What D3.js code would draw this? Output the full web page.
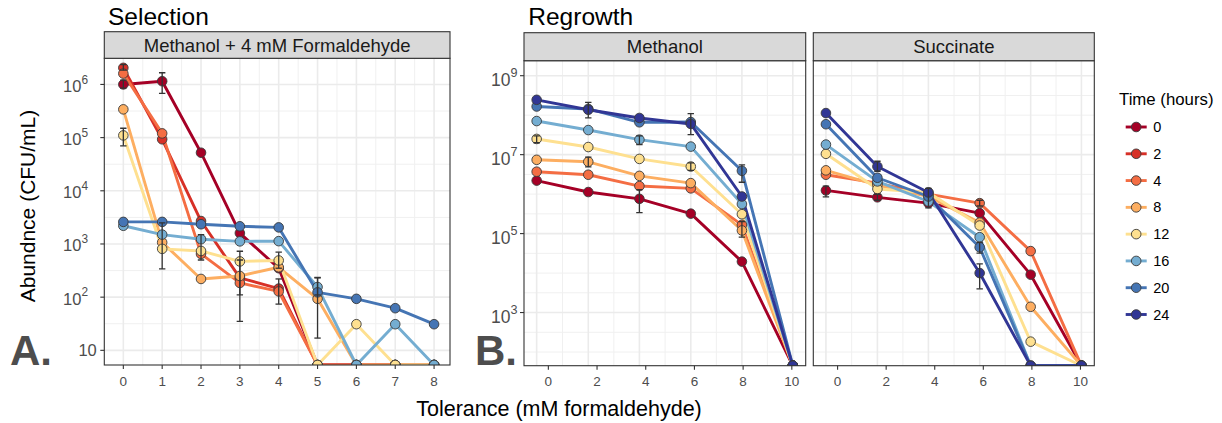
<!DOCTYPE html>
<html><head><meta charset="utf-8">
<script src="https://cdn.jsdelivr.net/npm/d3@7"></script>
<style>body{margin:0;background:#fff} text{font-family:"Liberation Sans",Arial,Helvetica,sans-serif}</style>
</head><body><svg id="c" width="1222" height="423"></svg>
<script>
// ---------------- DATA ----------------
const times = [0, 2, 4, 8, 12, 16, 20, 24];
const palette = ["#a50026", "#d73027", "#f46d43", "#fdae61", "#fee090", "#74add1", "#4575b4", "#313695"];

// Panel A: Selection (Methanol + 4 mM Formaldehyde); 0 = none detected (drawn at axis floor)
const selX = [0, 1, 2, 3, 4, 5, 6, 7, 8];
const selTicks = [0, 1, 2, 3, 4, 5, 6, 7, 8];
const selYTicks = [10, 1e2, 1e3, 1e4, 1e5, 1e6];
const sel0  = [1.0e6, 1.15e6, 5.2e4, 1.6e3, 350, 0, 0, 0, 0];
const sel2  = [2.05e6, 9.3e4, 2.7e3, 230, 145, 0, 0, 0, 0];
const sel4  = [1.6e6, 1.2e5, 650, 185, 128, 0, 0, 0, 0];
const sel8  = [3.4e5, 1.07e3, 220, 250, 365, 93, 0, 0, 0];
const sel12 = [1.1e5, 810, 740, 470, 490, 0, 31, 0, 0];
const sel16 = [2.2e3, 1.5e3, 1.23e3, 1.12e3, 1.13e3, 155, 0, 31, 0];
const sel20 = [2.6e3, 2.6e3, 2.35e3, 2.15e3, 2.05e3, 123, 93, 62, 31];
// error bars: [time, index, low, high]
const selErr = [
  [0, 0, 8.5e5, 1.2e6], [0, 1, 6.8e5, 1.66e6], [2, 0, 1.85e6, 2.35e6],
  [12, 0, 7e4, 1.5e5], [12, 1, 340, 2.5e3], [4, 2, 500, 1.5e3],
  [8, 3, 110, 730], [4, 3, 35, 500], [12, 4, 350, 700], [4, 4, 74, 220],
  [8, 5, 17, 230], [16, 5, 110, 235]
];

// Panel B: Regrowth (Methanol / Succinate)
const regX = [-0.48, 1.64, 3.74, 5.85, 7.95, 10.04];
const regTicks = [0, 2, 4, 6, 8, 10];
const regYTicks = [1e3, 1e5, 1e7, 1e9];
const meth0  = [2.2e6, 1.13e6, 7.6e5, 3.2e5, 1.95e4, 0];
const meth4  = [3.7e6, 3.1e6, 1.6e6, 1.4e6, 1.66e5, 0];
const meth8  = [7.4e6, 6.6e6, 2.9e6, 1.9e6, 1.2e5, 0];
const meth12 = [2.5e7, 1.56e7, 7.8e6, 5.0e6, 3.1e5, 0];
const meth16 = [7.1e7, 4.2e7, 2.4e7, 1.6e7, 5.6e5, 0];
const meth20 = [1.66e8, 1.44e8, 6.6e7, 6.7e7, 3.9e6, 0];
const meth24 = [2.45e8, 1.37e8, 8.5e7, 6.0e7, 8.7e5, 0];
const methErr = [
  [20, 1, 8.5e7, 2.1e8], [0, 2, 3.4e5, 1.3e6], [20, 3, 3.2e7, 1.1e8],
  [20, 4, 2.0e6, 5.5e6], [16, 2, 1.8e7, 3.0e7], [8, 1, 4.9e6, 8.7e6],
  [12, 3, 4.0e6, 6.2e6], [12, 0, 2.0e7, 3.0e7], [8, 4, 8.1e4, 2.0e5]
];
const succ0  = [1.24e6, 8.3e5, 5.9e5, 3.3e5, 9.1e3, 0];
const succ4  = [3.1e6, 1.9e6, 1.0e6, 5.9e5, 3.6e4, 0];
const succ8  = [4.0e6, 1.7e6, 8.7e5, 1.9e5, 1.4e3, 0];
const succ12 = [1.05e7, 1.35e6, 1.1e6, 1.6e5, 183, 0];
const succ16 = [1.8e7, 2.1e6, 6.5e5, 8.1e4, 0, 0];
const succ20 = [5.9e7, 2.6e6, 8.7e5, 4.5e4, 0, 0];
const succ24 = [1.13e8, 5.0e6, 1.1e6, 1.0e4, 0, 0];
const succErr = [
  [0, 0, 8.5e5, 1.6e6], [0, 1, 7.0e5, 9.8e5], [24, 1, 3.8e6, 6.8e6],
  [24, 2, 4.5e5, 1.4e6], [4, 3, 5.0e5, 7.0e5], [20, 3, 3.2e4, 6.0e4],
  [24, 3, 4.0e3, 1.7e4]
];

const selSeries  = [[0, sel0], [2, sel2], [4, sel4], [8, sel8], [12, sel12], [16, sel16], [20, sel20]];
const methSeries = [[0, meth0], [4, meth4], [8, meth8], [12, meth12], [16, meth16], [20, meth20], [24, meth24]];
const succSeries = [[0, succ0], [4, succ4], [8, succ8], [12, succ12], [16, succ16], [20, succ20], [24, succ24]];

// ---------------- DRAW ----------------
const svg = d3.select("#c");
const color = d3.scaleOrdinal().domain(times).range(palette);
let clipId = 0;

function panel(o) {
  const g = svg.append("g");
  const x = d3.scaleLinear().domain(o.xDomain).range([o.left, o.right]);
  const y = d3.scaleLog().domain(o.yDomain).range([o.bottom, o.top]);
  const floor = o.yDomain[0];
  // grid
  const lo = Math.ceil(Math.log10(o.yDomain[0]) * 2) / 2, hi = Math.log10(o.yDomain[1]);
  const yMinor = [], yMajorAll = [];
  for (let e = lo; e <= hi + 1e-9; e += 0.5) {
    const v = Math.pow(10, e);
    if (o.yMajorGrid.some(t => Math.abs(Math.log10(t) - e) < 1e-6)) yMajorAll.push(v); else yMinor.push(v);
  }
  const xMajor = o.xGrid;
  const xMinor = d3.pairs(o.xGrid).map(([a, b]) => (a + b) / 2);
  g.selectAll(".ymin").data(yMinor).join("line")
    .attr("x1", o.left).attr("x2", o.right).attr("y1", d => y(d)).attr("y2", d => y(d))
    .attr("stroke", "#f0f0f0").attr("stroke-width", 1);
  g.selectAll(".xmin").data(xMinor).join("line")
    .attr("y1", o.top).attr("y2", o.bottom).attr("x1", d => x(d)).attr("x2", d => x(d))
    .attr("stroke", "#f0f0f0").attr("stroke-width", 1);
  g.selectAll(".ymaj").data(yMajorAll).join("line")
    .attr("x1", o.left).attr("x2", o.right).attr("y1", d => y(d)).attr("y2", d => y(d))
    .attr("stroke", "#ebebeb").attr("stroke-width", 1.6);
  g.selectAll(".xmaj").data(xMajor).join("line")
    .attr("y1", o.top).attr("y2", o.bottom).attr("x1", d => x(d)).attr("x2", d => x(d))
    .attr("stroke", "#ebebeb").attr("stroke-width", 1.6);

  // clip
  const cid = "clip" + (clipId++);
  svg.append("clipPath").attr("id", cid).append("rect")
    .attr("x", o.left).attr("y", o.top).attr("width", o.right - o.left).attr("height", o.bottom - o.top);
  const data = g.append("g").attr("clip-path", `url(#${cid})`);
  const val = v => (v <= 0 ? floor : v);
  const line = d3.line().x(d => x(d[0])).y(d => y(val(d[1])));
  o.series.forEach(([t, arr]) => {
    const pts = arr.map((v, i) => [o.xs[i], v]);
    data.append("path").attr("d", line(pts)).attr("fill", "none")
      .attr("stroke", color(t)).attr("stroke-width", 2.9).attr("stroke-linejoin", "round");
  });
  o.series.forEach(([t, arr]) => {
    data.selectAll(null).data(arr.map((v, i) => [o.xs[i], v])).join("circle")
      .attr("cx", d => x(d[0])).attr("cy", d => y(val(d[1]))).attr("r", 4.8)
      .attr("fill", color(t)).attr("stroke", "#3a3a3a").attr("stroke-width", 0.9);
  });
  o.errs.forEach(([t, i, l, h]) => {
    const cx = x(o.xs[i]);
    const eg = data.append("g").attr("stroke", "#333").attr("stroke-width", 1.3);
    eg.append("line").attr("x1", cx).attr("x2", cx).attr("y1", y(l)).attr("y2", y(h));
    eg.append("line").attr("x1", cx - 3.2).attr("x2", cx + 3.2).attr("y1", y(l)).attr("y2", y(l));
    eg.append("line").attr("x1", cx - 3.2).attr("x2", cx + 3.2).attr("y1", y(h)).attr("y2", y(h));
  });

  // border
  g.append("rect").attr("x", o.left).attr("y", o.top).attr("width", o.right - o.left).attr("height", o.bottom - o.top)
    .attr("fill", "none").attr("stroke", "#333").attr("stroke-width", 1.1);
  // strip
  g.append("rect").attr("x", o.left).attr("y", o.stripTop).attr("width", o.right - o.left).attr("height", o.top - o.stripTop)
    .attr("fill", "#d9d9d9").attr("stroke", "#333").attr("stroke-width", 1.1);
  g.append("text").attr("x", (o.left + o.right) / 2).attr("y", (o.top + o.stripTop) / 2 + 6.5)
    .attr("text-anchor", "middle").attr("font-size", 18.5).attr("fill", "#1a1a1a").text(o.strip);

  // x axis
  g.selectAll(".xt").data(o.xTicks).join("line")
    .attr("x1", d => x(d)).attr("x2", d => x(d)).attr("y1", o.bottom).attr("y2", o.bottom + 4)
    .attr("stroke", "#333").attr("stroke-width", 1.1);
  g.selectAll(".xl").data(o.xTicks).join("text")
    .attr("x", d => x(d)).attr("y", o.bottom + 20.5).attr("text-anchor", "middle")
    .attr("font-size", 13.5).attr("fill", "#4d4d4d").text(d => d);

  // y axis
  if (o.yTicks) {
    g.selectAll(".yt").data(o.yTicks).join("line")
      .attr("x1", o.left - 4).attr("x2", o.left).attr("y1", d => y(d)).attr("y2", d => y(d))
      .attr("stroke", "#333").attr("stroke-width", 1.1);
    o.yTicks.forEach(v => {
      const e = Math.round(Math.log10(v));
      const tx = g.append("text").attr("text-anchor", "end").attr("fill", "#4d4d4d")
        .attr("font-size", o.yFont);
      if (e === 1) {
        tx.attr("x", o.left - 7.5).attr("y", y(v) + o.yFont * 0.36).text("10");
      } else {
        tx.attr("x", o.yLabelEnd).attr("y", y(v) + o.yBase);
        tx.append("tspan").text("10");
        tx.append("tspan").attr("font-size", o.yFont * 0.72).attr("dy", -o.yFont * 0.5).text(e);
      }
    });
  }
  return { x, y };
}

// Panel A
panel({
  left: 104.3, right: 450, top: 58.3, bottom: 365, stripTop: 31.7,
  strip: "Methanol + 4 mM Formaldehyde",
  xDomain: [-0.49, 8.41], yDomain: [5.3, 3.1e6],
  xGrid: selX, xTicks: selTicks, yMajorGrid: selYTicks, yTicks: selYTicks,
  yFont: 16.5, yBase: 7.5, yLabelEnd: 88,
  xs: selX, series: selSeries, errs: selErr
});
// Panel B methanol
panel({
  left: 524, right: 805.7, top: 60.7, bottom: 365.7, stripTop: 32.7,
  strip: "Methanol",
  xDomain: [-1.0, 10.57], yDomain: [45, 2.4e9],
  xGrid: regX, xTicks: regTicks, yMajorGrid: [1e3, 1e5, 1e7, 1e9], yTicks: regYTicks,
  yFont: 17.5, yBase: 10.5, yLabelEnd: 517.5,
  xs: regX, series: methSeries, errs: methErr
});
// Panel B succinate
panel({
  left: 813.3, right: 1094.3, top: 60.7, bottom: 365.7, stripTop: 32.7,
  strip: "Succinate",
  xDomain: [-1.0, 10.57], yDomain: [45, 2.4e9],
  xGrid: regX, xTicks: regTicks, yMajorGrid: [1e3, 1e5, 1e7, 1e9], yTicks: null,
  xs: regX, series: succSeries, errs: succErr
});

// titles
svg.append("text").attr("x", 108).attr("y", 25).attr("font-size", 24.5).attr("fill", "#000").text("Selection");
svg.append("text").attr("x", 528.3).attr("y", 25).attr("font-size", 24.5).attr("fill", "#000").text("Regrowth");
svg.append("text").attr("x", 10).attr("y", 365).attr("font-size", 42).attr("font-weight", "bold").attr("fill", "#4d4d4d").text("A.");
svg.append("text").attr("x", 475).attr("y", 365).attr("font-size", 42).attr("font-weight", "bold").attr("fill", "#4d4d4d").text("B.");
svg.append("text").attr("transform", "translate(35,206) rotate(-90)").attr("text-anchor", "middle")
  .attr("font-size", 21).attr("fill", "#000").text("Abundnce (CFU/mL)");
svg.append("text").attr("x", 559).attr("y", 416).attr("text-anchor", "middle")
  .attr("font-size", 21.5).attr("fill", "#000").text("Tolerance (mM formaldehyde)");

// legend
const lg = svg.append("g");
lg.append("text").attr("x", 1119).attr("y", 105).attr("font-size", 16.8).attr("fill", "#000").text("Time (hours)");
const ly = d3.scalePoint().domain(times).range([127, 314.5]);
times.forEach(t => {
  const cy = ly(t);
  lg.append("line").attr("x1", 1125.7).attr("x2", 1146.7).attr("y1", cy).attr("y2", cy)
    .attr("stroke", color(t)).attr("stroke-width", 2.9);
  lg.append("circle").attr("cx", 1136.2).attr("cy", cy).attr("r", 4.8)
    .attr("fill", color(t)).attr("stroke", "#3a3a3a").attr("stroke-width", 0.9);
  lg.append("text").attr("x", 1153.3).attr("y", cy + 5).attr("font-size", 14.5).attr("fill", "#000").text(t);
});
</script></body></html>
